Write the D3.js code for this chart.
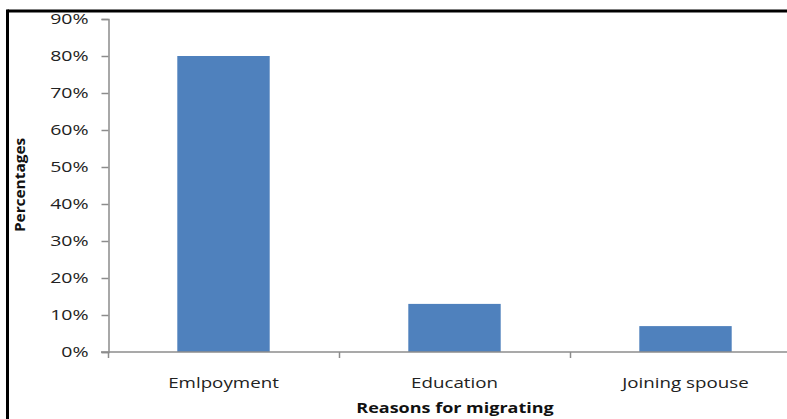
<!DOCTYPE html>
<html>
<head>
<meta charset="utf-8">
<script src="https://cdn.jsdelivr.net/npm/d3@7"></script>
<style>
  html, body { margin: 0; padding: 0; background: #fff; }
  svg { display: block; }
  text { font-family: "Open Sans", "Liberation Sans", sans-serif; }
</style>
</head>
<body>
<svg id="chart" width="787" height="419"></svg>
<script>
const categories = ["Emlpoyment", "Education", "Joining spouse"];
const values = [0.80, 0.13, 0.07];
const yTicks = [0, 0.1, 0.2, 0.3, 0.4, 0.5, 0.6, 0.7, 0.8, 0.9];
const xTitle = "Reasons for migrating";
const yTitle = "Percentages";

const svg = d3.select("#chart");
const W = 787, H = 419;

// frame border (top + left visible)
svg.append("line").attr("x1", 7.5).attr("x2", W + 5).attr("y1", 11).attr("y2", 11)
  .attr("stroke", "#000").attr("stroke-width", 3);
svg.append("line").attr("x1", 7.5).attr("x2", 7.5).attr("y1", 9.5).attr("y2", H + 5)
  .attr("stroke", "#000").attr("stroke-width", 3);

const x = d3.scaleBand().domain(categories).range([108, 801]).paddingInner(0.6).paddingOuter(0.3);
const y = d3.scaleLinear().domain([0, 0.9]).range([352, 19]);

const axisColor = "#8c8c8c";

// bars
svg.selectAll("rect.bar").data(categories).join("rect")
  .attr("class", "bar")
  .attr("x", d => x(d))
  .attr("width", x.bandwidth())
  .attr("y", (d, i) => y(values[i]))
  .attr("height", (d, i) => y(0) - y(values[i]))
  .attr("fill", "#4f81bd");

// y axis
const yAxis = d3.axisLeft(y).tickValues(yTicks).tickFormat(d3.format(".0%")).tickSize(7).tickPadding(12);
const gy = svg.append("g").attr("transform", "translate(108.5,0)").call(yAxis);
gy.select(".domain").attr("stroke", axisColor).attr("stroke-width", 1.5);
gy.selectAll(".tick line").attr("stroke", axisColor).attr("stroke-width", 1.5);
gy.selectAll(".tick text").attr("font-size", 15).attr("fill", "#222")
  .attr("font-family", "\"Open Sans\", sans-serif")
  .attr("x", 0)
  .attr("transform", "translate(-20,0) scale(1.3,1)");

// x axis
const step = x.step();
const boundaries = categories.map(d => x(d) - step * x.paddingInner() / 2).concat([x(categories[categories.length - 1]) + x.bandwidth() + step * x.paddingInner() / 2]);
svg.append("line").attr("x1", 101).attr("x2", W).attr("y1", y(0)).attr("y2", y(0))
  .attr("stroke", axisColor).attr("stroke-width", 1.5);
svg.selectAll("line.xtick").data(boundaries).join("line")
  .attr("class", "xtick")
  .attr("x1", d => d + 0.5).attr("x2", d => d + 0.5)
  .attr("y1", y(0)).attr("y2", y(0) + 6)
  .attr("stroke", axisColor).attr("stroke-width", 1.5);
svg.selectAll("text.xlab").data(categories).join("text")
  .attr("class", "xlab")
  .attr("transform", d => `translate(${x(d) + x.bandwidth() / 2},388) scale(1.25,1)`)
  .attr("text-anchor", "middle")
  .attr("font-size", 15)
  .attr("fill", "#222")
  .text(d => d);

// axis titles
svg.append("text").attr("transform", "translate(455,413) scale(1.2,1)").attr("text-anchor", "middle")
  .attr("font-size", 15).attr("font-weight", "bold").attr("fill", "#111").text(xTitle);
svg.append("text").attr("transform", "translate(25,185) rotate(-90) scale(1.1,1)").attr("text-anchor", "middle")
  .attr("font-size", 14).attr("font-weight", "bold").attr("fill", "#111").text(yTitle);
</script>
</body>
</html>
